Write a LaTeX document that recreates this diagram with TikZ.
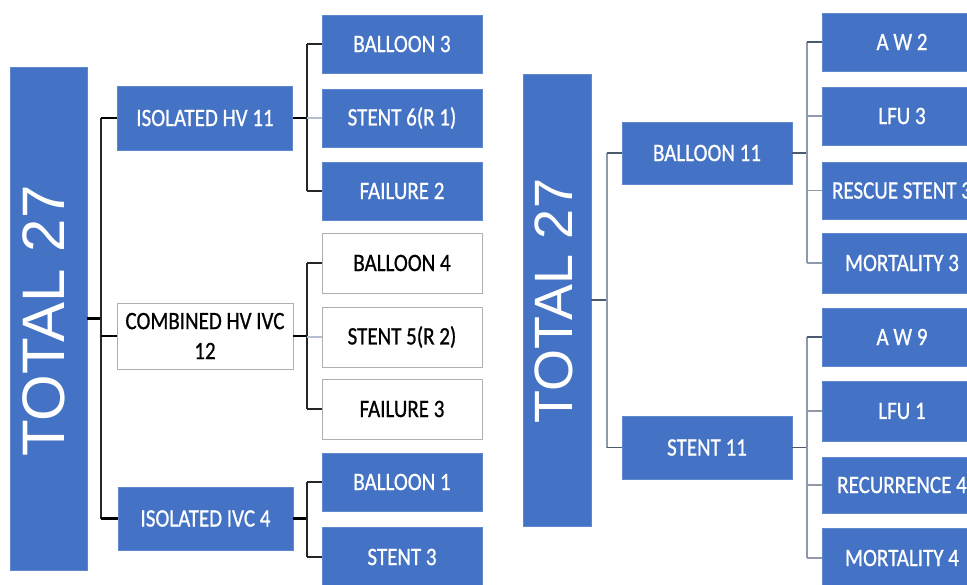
\documentclass[tikz,border=0pt]{standalone}
\usepackage{fontspec}
\setmainfont{Carlito}
\newfontface\boxfont{Carlito}[FakeBold=0.9]
\newfontfamily\totfont{Liberation Sans}
\definecolor{obl}{HTML}{4472C4}
\definecolor{obd}{HTML}{6088CF}
\definecolor{gbd}{HTML}{B0B0B0}
\definecolor{lgl}{HTML}{B4C0D2}
\definecolor{rdk}{HTML}{4B5A6E}
\definecolor{rlt}{HTML}{8E99AA}
\newcommand{\sq}[1]{\scalebox{0.84}[1]{#1}}
\begin{document}
\begin{tikzpicture}[x=1pt,y=-1pt,
  bbox/.style={inner sep=0pt, line width=0.8pt, align=center,
    font=\boxfont\fontsize{25}{30}\selectfont},
  blue/.style={bbox, fill=obl, draw=obd, text=white},
  wbox/.style={bbox, fill=white, draw=gbd, text=black},
  kid/.style={minimum width=160, minimum height=58},
  par/.style={minimum width=175, minimum height=64},
  rpar/.style={minimum width=170, minimum height=62},
  tottext/.style={rotate=90, inner sep=0pt, text=white},
  lk/.style={draw=black, line width=2.2pt},
  lv/.style={draw=black!85, line width=1.8pt},
  lm/.style={draw=lgl, line width=1.2pt},
  rk/.style={draw=rdk, line width=1.8pt},
  rv/.style={draw=rlt, line width=1.3pt}]
\useasboundingbox (0,0) rectangle (967,585);
\clip (0,0) rectangle (967,585);
\fill[white] (0,0) rectangle (967,585);

% ---------- left panel ----------
\node[blue, minimum width=77, minimum height=503] (tot1) at (48.5,318.5) {};
\node[tottext, font=\totfont\fontsize{60}{60}\selectfont] (tl1) at (44,321) {TOTAL 27};

\node[blue, par] (ihv) at (205,118) {\sq{ISOLATED HV 11}};
\node[wbox, minimum width=176, minimum height=66] (cmb) at (205,336) {\sq{COMBINED HV IVC}\\\sq{12}};
\node[blue, par, minimum height=63] (iivc) at (205.5,518.5) {\sq{ISOLATED IVC 4}};

\node[blue, kid] (b3) at (402,44) {\sq{BALLOON 3}};
\node[blue, kid] (s6) at (402,118) {\sq{STENT 6(R 1)}};
\node[blue, kid] (f2) at (402,191) {\sq{FAILURE 2}};
\node[wbox, kid, minimum height=60] (b4) at (402,263) {\sq{BALLOON 4}};
\node[wbox, kid, minimum height=60] (s5) at (402,337) {\sq{STENT 5(R 2)}};
\node[wbox, kid, minimum height=60] (f3) at (402,409) {\sq{FAILURE 3}};
\node[blue, kid] (b1) at (402,482) {\sq{BALLOON 1}};
\node[blue, kid, minimum height=60] (st3) at (402,557) {\sq{STENT 3}};

\coordinate (t1) at (101,0);
\coordinate (s1) at (307,0);
\draw[lk] (tot1.east) -- (tot1.east -| t1);
\draw[lv] (t1 |- ihv.west) -- (t1 |- iivc.west);
\draw[lk] (ihv.west -| t1) -- (ihv.west);
\draw[lk] (cmb.west -| t1) -- (cmb.west);
\draw[lk] (iivc.west -| t1) -- (iivc.west);

\draw[lk] (ihv.east) -- (ihv.east -| s1);
\draw[lv] (s1 |- b3.west) -- (s1 |- f2.west);
\draw[lv] (b3.west -| s1) -- (b3.west);
\draw[lm] (s6.west -| s1) -- (s6.west);
\draw[lv] (f2.west -| s1) -- (f2.west);

\draw[lk] (cmb.east) -- (cmb.east -| s1);
\draw[lv] (s1 |- b4.west) -- (s1 |- f3.west);
\draw[lv] (b4.west -| s1) -- (b4.west);
\draw[lm] (s5.west -| s1) -- (s5.west);
\draw[lv] (f3.west -| s1) -- (f3.west);

\draw[lk] (iivc.east) -- (iivc.east -| s1);
\draw[lv] (s1 |- b1.west) -- (s1 |- st3.west);
\draw[lv] (b1.west -| s1) -- (b1.west);
\draw[lv] (st3.west -| s1) -- (st3.west);

% ---------- right panel ----------
\node[blue, minimum width=68, minimum height=452] (tot2) at (557,300) {};
\node[tottext, font=\totfont\fontsize{54}{54}\selectfont] (tl2) at (554,301) {TOTAL 27};

\node[blue, rpar] (bal) at (707,153) {\sq{BALLOON 11}};
\node[blue, rpar, minimum height=63] (stn) at (707,447.5) {\sq{STENT 11}};

\node[blue, kid] (aw2) at (902,42) {\sq{A W 2}};
\node[blue, kid] (lfu3) at (902,116) {\sq{LFU 3}};
\node[blue, kid, minimum height=57] (res) at (902,190.5) {\sq{RESCUE STENT 3}};
\node[blue, kid, minimum height=60] (mor3) at (902,263) {\sq{MORTALITY 3}};
\node[blue, kid] (aw9) at (902,337) {\sq{A W 9}};
\node[blue, kid, minimum height=60] (lfu1) at (902,411) {\sq{LFU 1}};
\node[blue, kid, minimum height=56] (rec) at (902,485) {\sq{RECURRENCE 4}};
\node[blue, kid, minimum height=60] (mor4) at (902,558) {\sq{MORTALITY 4}};

\coordinate (t2) at (607,0);
\coordinate (s2) at (807,0);
\draw[rk] (tot2.east) -- (tot2.east -| t2);
\draw[rv] (t2 |- bal.west) -- (t2 |- stn.west);
\draw[rk] (bal.west -| t2) -- (bal.west);
\draw[rk] (stn.west -| t2) -- (stn.west);

\draw[rk] (bal.east) -- (bal.east -| s2);
\draw[rv] (s2 |- aw2.west) -- (s2 |- mor3.west);
\draw[rk] (aw2.west -| s2) -- (aw2.west);
\draw[rv] (lfu3.west -| s2) -- (lfu3.west);
\draw[rv] (res.west -| s2) -- (res.west);
\draw[rv] (mor3.west -| s2) -- (mor3.west);

\draw[rk] (stn.east) -- (stn.east -| s2);
\draw[rv] (s2 |- aw9.west) -- (s2 |- mor4.west);
\draw[rk] (aw9.west -| s2) -- (aw9.west);
\draw[rv] (lfu1.west -| s2) -- (lfu1.west);
\draw[rv] (rec.west -| s2) -- (rec.west);
\draw[rv] (mor4.west -| s2) -- (mor4.west);
\end{tikzpicture}
\end{document}
